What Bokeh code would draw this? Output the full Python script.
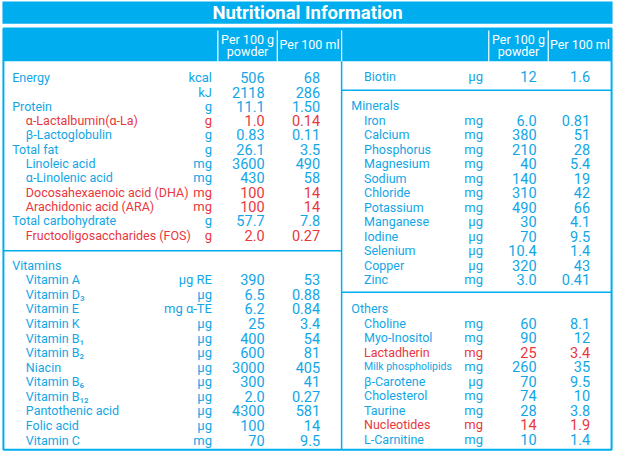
from bokeh.plotting import figure
from bokeh.models import ColumnDataSource, Range1d
from bokeh.core.properties import value
from bokeh.embed import file_html
from bokeh.resources import INLINE

# ---------------- data ----------------
title = "Nutritional Information"
hdr_powder = ["Per 100 g", "powder"]
hdr_ml = "Per 100 ml"

main_names = ["Energy", "", "Protein", "α-Lactalbumin(α-La)", "β-Lactoglobulin", "Total fat",
              "Linoleic acid", "α-Linolenic acid", "Docosahexaenoic acid (DHA)",
              "Arachidonic acid (ARA)", "Total carbohydrate", "Fructooligosaccharides (FOS)"]
main_level = [0, 0, 0, 1, 1, 0, 1, 1, 1, 1, 0, 1]
main_units = ["kcal", "kJ", "g", "g", "g", "g", "mg", "mg", "mg", "mg", "g", "g"]
main_powder = ["506", "2118", "11.1", "1.0", "0.83", "26.1", "3600", "430", "100", "100", "57.7", "2.0"]
main_ml = ["68", "286", "1.50", "0.14", "0.11", "3.5", "490", "58", "14", "14", "7.8", "0.27"]

vit_title = "Vitamins"
vit_names = ["Vitamin A", "Vitamin D₃", "Vitamin E", "Vitamin K", "Vitamin B₁", "Vitamin B₂",
             "Niacin", "Vitamin B₆", "Vitamin B₁₂", "Pantothenic acid", "Folic acid", "Vitamin C"]
vit_units = ["μg RE", "μg", "mg α-TE", "μg", "μg", "μg", "μg", "μg", "μg", "μg", "μg", "mg"]
vit_powder = ["390", "6.5", "6.2", "25", "400", "600", "3000", "300", "2.0", "4300", "100", "70"]
vit_ml = ["53", "0.88", "0.84", "3.4", "54", "81", "405", "41", "0.27", "581", "14", "9.5"]

bio_names = ["Biotin"]
bio_units = ["μg"]
bio_powder = ["12"]
bio_ml = ["1.6"]

min_title = "Minerals"
min_names = ["Iron", "Calcium", "Phosphorus", "Magnesium", "Sodium", "Chloride", "Potassium",
             "Manganese", "Iodine", "Selenium", "Copper", "Zinc"]
min_units = ["mg", "mg", "mg", "mg", "mg", "mg", "mg", "μg", "μg", "μg", "μg", "mg"]
min_powder = ["6.0", "380", "210", "40", "140", "310", "490", "30", "70", "10.4", "320", "3.0"]
min_ml = ["0.81", "51", "28", "5.4", "19", "42", "66", "4.1", "9.5", "1.4", "43", "0.41"]

oth_title = "Others"
oth_names = ["Choline", "Myo-Inositol", "Lactadherin", "Milk phospholipids", "β-Carotene",
             "Cholesterol", "Taurine", "Nucleotides", "L-Carnitine"]
oth_units = ["mg", "mg", "mg", "mg", "μg", "mg", "mg", "mg", "mg"]
oth_powder = ["60", "90", "25", "260", "70", "74", "28", "14", "10"]
oth_ml = ["8.1", "12", "3.4", "35", "9.5", "10", "3.8", "1.9", "1.4"]

highlighted = ["α-Lactalbumin(α-La)", "Docosahexaenoic acid (DHA)", "Arachidonic acid (ARA)",
               "Fructooligosaccharides (FOS)", "Lactadherin", "Nucleotides"]
small_names = ["Milk phospholipids"]

# ---------------- style ----------------
BLUE = "#00aeef"
TXT_BLUE = "#12a6e6"
RED = "#e8383d"
FONT = "Roboto"
FS_NAME = "12.5px"
FS_UNIT = "13px"
FS_NUM = "14.5px"

p = figure(width=614, height=454, output_backend="svg", toolbar_location=None,
           x_range=Range1d(0, 630), y_range=Range1d(470, 0), min_border=0)
p.axis.visible = False
p.grid.visible = False
p.outline_line_color = None
p.background_fill_color = "white"

# title bar
p.quad(left=[2], right=[628], top=[1], bottom=[24], fill_color=BLUE, line_color=None)
p.text(x=[315], y=[13], text=[title], text_color="white", text_font=value(FONT),
       text_font_size="18.5px", text_font_style="bold", text_align="center", text_baseline="middle")

# table box and header
p.quad(left=[3], right=[627], top=[29], bottom=[63], fill_color=BLUE, line_color=None)
p.quad(left=[3], right=[627], top=[29], bottom=[465], fill_color=None, line_color=BLUE, line_width=2)
p.segment(x0=[223, 284, 350, 501, 562], y0=[31] * 5, x1=[223, 284, 350, 501, 562], y1=[63] * 5,
          line_color="white", line_width=1.2)
p.segment(x0=[350, 3, 350, 350], y0=[63, 259, 93, 302], x1=[350, 350, 627, 627], y1=[465, 259, 93, 302],
          line_color=BLUE, line_width=1.5)

for cx0, cx1 in [(223, 284), (501, 562)]:
    p.text(x=[(cx0 + cx1) / 2] * 2, y=[40, 53], text=hdr_powder, text_color="white",
           text_font=value(FONT), text_font_size="12.5px", text_align="center", text_baseline="middle")
for cx0, cx1 in [(284, 350), (562, 627)]:
    p.text(x=[(cx0 + cx1) / 2], y=[46], text=[hdr_ml], text_color="white",
           text_font=value(FONT), text_font_size="12.5px", text_align="center", text_baseline="middle")

rows = {"x": [], "y": [], "t": [], "c": [], "a": [], "s": []}


def add(x, y, t, c, a, s):
    rows["x"].append(x); rows["y"].append(y); rows["t"].append(t)
    rows["c"].append(c); rows["a"].append(a); rows["s"].append(s)


def block(names, levels, units, powder, ml, y0, step, x_name, x_indent, x_unit, x_pw, x_ml):
    for i, n in enumerate(names):
        y = y0 + i * step
        c = RED if n in highlighted else TXT_BLUE
        size = "10.5px" if n in small_names else FS_NAME
        add(x_indent if levels[i] else x_name, y, n, c, "left", size)
        add(x_unit, y, units[i], c, "right", FS_UNIT)
        add(x_pw, y, powder[i], c, "right", FS_NUM)
        add(x_ml, y, ml[i], c, "right", FS_NUM)


# left panel
block(main_names, main_level, main_units, main_powder, main_ml, 80, 14.8, 12, 26, 217, 271, 328)
add(12, 274, vit_title, TXT_BLUE, "left", FS_NAME)
block(vit_names, [1] * len(vit_names), vit_units, vit_powder, vit_ml, 289, 15.1, 12, 26, 217, 271, 328)
# right panel
block(bio_names, [1], bio_units, bio_powder, bio_ml, 79, 15, 360, 373, 495, 550, 605)
add(360, 109, min_title, TXT_BLUE, "left", FS_NAME)
block(min_names, [1] * len(min_names), min_units, min_powder, min_ml, 124, 15, 360, 373, 495, 550, 605)
add(360, 319, oth_title, TXT_BLUE, "left", FS_NAME)
block(oth_names, [1] * len(oth_names), oth_units, oth_powder, oth_ml, 334, 15, 360, 373, 495, 550, 605)

src = ColumnDataSource(rows)
p.text(x="x", y="y", text="t", text_color="c", text_align="a", text_font_size="s",
       text_baseline="middle", text_font=value(FONT), source=src)

open("out.html", "w").write(file_html(p, INLINE))
